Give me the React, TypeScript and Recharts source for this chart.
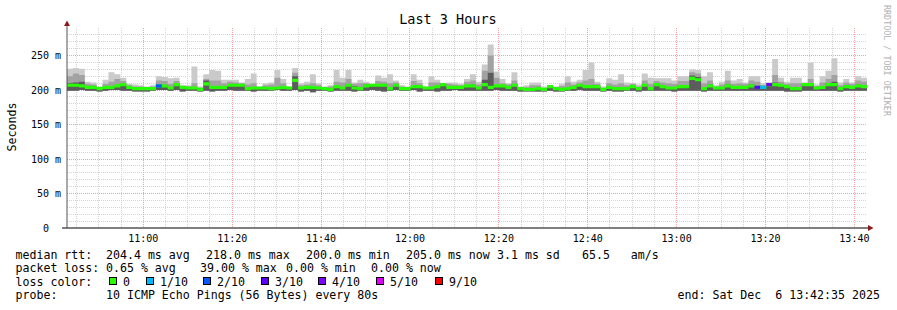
import React from 'react';
import { ComposedChart, Area, XAxis, YAxis, CartesianGrid, ReferenceDot } from 'recharts';

// time axis (seconds since midnight): 10:42:50 .. 13:42:50, 80 s steps
const T0 = 38570;
const STEP = 80;
const SPAN = 10800;
const Y_MAX = 290;

// median rtt per step (ms)
const medianMs = [
  207, 207, 206, 204, 204, 202, 204, 204, 206, 208,
  204, 202, 202, 202, 202, 206, 206, 203, 208, 204,
  203, 203, 201, 209, 204, 204, 204, 207, 207, 207,
  202, 203, 203, 203, 202, 203, 204, 203, 214, 203,
  204, 204, 203, 202, 201, 205, 203, 207, 203, 202,
  206, 207, 207, 207, 202, 207, 202, 202, 205, 205,
  203, 203, 205, 208, 204, 204, 204, 206, 206, 203,
  208, 204, 206, 206, 204, 207, 202, 201, 201, 202,
  201, 205, 202, 201, 202, 204, 207, 205, 205, 205,
  201, 204, 202, 202, 202, 205, 202, 207, 202, 208,
  205, 203, 203, 205, 205, 217, 215, 202, 206, 203,
  203, 206, 204, 204, 204, 206, 204, 204, 208, 208,
  207, 205, 202, 202, 208, 208, 203, 204, 208, 208,
  202, 205, 204, 206, 205,
];
// highest ping per step (ms)
const maxMs = [
  231, 232, 231, 212, 211, 205, 215, 226, 223, 218,
  209, 208, 207, 205, 207, 220, 219, 217, 218, 207,
  207, 234, 205, 223, 229, 228, 215, 215, 215, 211,
  216, 224, 205, 210, 211, 229, 216, 205, 232, 210,
  212, 223, 210, 205, 207, 229, 218, 229, 211, 215,
  212, 208, 221, 218, 223, 214, 207, 205, 223, 215,
  205, 220, 215, 210, 211, 211, 209, 216, 223, 212,
  237, 266, 227, 216, 210, 226, 205, 207, 211, 211,
  205, 207, 205, 209, 220, 212, 215, 229, 240, 212,
  205, 217, 215, 223, 211, 210, 208, 224, 218, 217,
  217, 217, 214, 220, 220, 230, 229, 220, 226, 207,
  212, 228, 214, 216, 211, 220, 220, 210, 211, 245,
  218, 212, 218, 218, 211, 240, 208, 220, 228, 246,
  211, 216, 211, 220, 218,
];
// top of the middle smoke band (ms)
const upperMs = [
  220, 224, 222, 209, 208, 204, 209, 212, 216, 213,
  207, 205, 205, 204, 205, 214, 213, 209, 213, 206,
  205, 210, 203, 216, 214, 214, 210, 212, 211, 210,
  208, 210, 204, 207, 208, 218, 210, 204, 225, 207,
  208, 210, 207, 204, 205, 212, 211, 216, 209, 210,
  210, 208, 213, 212, 210, 211, 205, 204, 213, 210,
  204, 211, 211, 209, 209, 208, 207, 212, 214, 208,
  228, 250, 218, 210, 208, 214, 204, 204, 207, 207,
  203, 206, 204, 206, 211, 208, 211, 214, 216, 209,
  203, 210, 208, 210, 207, 209, 205, 214, 209, 213,
  211, 210, 209, 213, 213, 226, 224, 210, 214, 205,
  208, 214, 209, 210, 209, 214, 212, 207, 210, 222,
  212, 209, 210, 210, 210, 216, 206, 211, 216, 222,
  207, 211, 209, 214, 212,
];
// top of the dark inner smoke band (ms)
const innerMs = [
  210, 211, 212, 205, 205, 203, 205, 205, 207, 209,
  205, 203, 203, 203, 203, 207, 207, 204, 209, 205,
  204, 204, 202, 214, 205, 205, 205, 208, 208, 208,
  203, 204, 203, 204, 203, 204, 205, 203, 220, 204,
  205, 205, 204, 203, 202, 206, 204, 208, 206, 203,
  208, 208, 208, 208, 203, 208, 203, 203, 206, 206,
  203, 204, 206, 209, 205, 205, 205, 207, 208, 204,
  215, 225, 207, 207, 205, 208, 203, 202, 202, 203,
  202, 206, 203, 202, 203, 205, 208, 206, 207, 206,
  202, 205, 203, 204, 203, 206, 203, 208, 203, 209,
  206, 204, 204, 207, 207, 221, 219, 204, 208, 204,
  204, 208, 205, 205, 205, 208, 206, 205, 209, 211,
  208, 206, 203, 203, 209, 210, 204, 205, 210, 212,
  203, 206, 205, 208, 207,
];
// lowest ping per step (ms)
const minMs = [
  199, 199, 200, 199, 199, 198, 199, 200, 200, 199,
  199, 198, 198, 198, 199, 200, 200, 199, 200, 198,
  199, 199, 198, 199, 198, 199, 199, 200, 199, 199,
  199, 198, 199, 199, 199, 200, 199, 199, 200, 198,
  199, 197, 199, 199, 198, 199, 199, 199, 198, 199,
  199, 200, 199, 198, 199, 200, 199, 199, 200, 198,
  199, 199, 198, 199, 199, 200, 199, 199, 199, 199,
  199, 199, 200, 199, 199, 199, 198, 198, 198, 198,
  198, 199, 198, 198, 199, 199, 200, 199, 199, 199,
  198, 199, 198, 198, 199, 199, 198, 199, 199, 199,
  199, 199, 198, 199, 199, 199, 199, 198, 199, 199,
  199, 199, 199, 199, 199, 199, 199, 199, 199, 199,
  199, 198, 198, 198, 199, 199, 199, 199, 199, 199,
  198, 199, 199, 199, 199,
];
// steps with packet loss and their loss (tenths)
const lossSteps = [15, 116, 117, 118];
const lossTenths = [2, 3, 1, 4];

// loss colour legend
const lossLevels = [0, 1, 2, 3, 4, 5, 9];
const lossLabels = ['0', '1/10', '2/10', '3/10', '4/10', '5/10', '9/10'];
const lossColors = ['#26ff00', '#00b8ff', '#0059ff', '#5e00ff', '#7e00ff', '#dd00ff', '#ff0000'];

// axes
const yTicks = [0, 50, 100, 150, 200, 250];
const xTicks = [39600, 40800, 42000, 43200, 44400, 45600, 46800, 48000, 49200];
const xTickLabels = ['11:00', '11:20', '11:40', '12:00', '12:20', '12:40', '13:00', '13:20', '13:40'];

// legend texts
const rttLabel = 'median rtt:';
const rttItems = ['204.4 ms avg', '218.0 ms max', '200.0 ms min', '205.0 ms now', '3.1 ms sd', '65.5   am/s'];
const lossLabel = 'packet loss:';
const lossItems = ['0.65 % avg', '39.00 % max', '0.00 % min', '0.00 % now'];
const colorLabel = 'loss color:';
const probeLabel = 'probe:';
const probeText = '10 ICMP Echo Pings (56 Bytes) every 80s';
const endText = 'end: Sat Dec  6 13:42:35 2025';
const titleText = 'Last 3 Hours';
const yLabel = 'Seconds';
const watermark = 'RRDTOOL / TOBI OETIKER';

// layout (pixel positions of legend items)
const rttX = [106, 206, 306, 406, 497, 582];
const lossX = [106, 200, 286, 371];
const swatchX = [109, 146, 203, 261, 318, 376, 435];
const swatchLabelX = [123, 160, 217, 275, 332, 390, 449];

const BAND = 2.3; // half thickness of the median band (ms)
const FONT = '"DejaVu Sans Mono", monospace';
const PRE: React.CSSProperties = { whiteSpace: 'pre' };

// minor grid values
const minorY: number[] = [];
for (let v = 10; v < Y_MAX; v += 10) if (v % 50 !== 0) minorY.push(v);
const majorY = yTicks.filter((v) => v > 0);
const minorX: number[] = [];
for (let t = 38700; t < T0 + SPAN; t += 300) if (!xTicks.includes(t)) minorX.push(t);

type Row = { [k: string]: number | undefined };
const rows: Row[] = medianMs.map((m, k) => ({
  t: T0 + STEP * k,
  med: m,
  lo: minMs[k],
  hi: maxMs[k],
  up: upperMs[k],
  inn: innerMs[k],
}));
rows.push({ ...rows[rows.length - 1], t: T0 + STEP * medianMs.length });
lossSteps.forEach((k, i) => {
  const key = 'loss' + lossTenths[i];
  rows[k][key] = medianMs[k];
  rows[k + 1][key] = medianMs[k];
});
const usedLoss = Array.from(new Set(lossTenths));

const yScaleOf = (yAxis: any, offset: any) => (v: number) =>
  yAxis && typeof yAxis.scale === 'function'
    ? yAxis.scale(v)
    : offset.top + offset.height * (1 - v / Y_MAX);
const xScaleOf = (xAxis: any, offset: any) => (v: number) =>
  xAxis && typeof xAxis.scale === 'function'
    ? xAxis.scale(v)
    : offset.left + (offset.width * (v - T0)) / SPAN;

const YTick = (props: any) => {
  const { y, payload } = props;
  const v = payload.value;
  return (
    <text x={61} y={y + 3.5} textAnchor="end" fontSize={10} fontFamily={FONT} fill="#000"
      xmlSpace="preserve" style={PRE}>
      {v === 0 ? '0  ' : `${v} m`}
    </text>
  );
};
const XTick = (props: any) => {
  const { x, y, payload } = props;
  const i = xTicks.indexOf(payload.value);
  return (
    <text x={x} y={y + 13.7} textAnchor="middle" fontSize={10} fontFamily={FONT} fill="#000">
      {i >= 0 ? xTickLabels[i] : ''}
    </text>
  );
};

const T = (p: { x: number; y: number; children: React.ReactNode }) => (
  <text x={p.x} y={p.y} xmlSpace="preserve" style={PRE}>{p.children}</text>
);

const ARROW = '#8b1a1a';

export default function App() {
  return (
    <div style={{ position: 'absolute', left: 0, top: 0, width: 897, height: 310, background: '#fff' }}>
      <ComposedChart width={897} height={310} data={rows} margin={{ top: 28, right: 30, bottom: 52, left: 0 }}>
        <CartesianGrid
          stroke="#d4d4d4"
          strokeDasharray="1 1"
          shapeRendering="crispEdges"
          horizontalCoordinatesGenerator={({ yAxis, offset }: any) => minorY.map(yScaleOf(yAxis, offset))}
          verticalCoordinatesGenerator={({ xAxis, offset }: any) => minorX.map(xScaleOf(xAxis, offset))}
        />
        <CartesianGrid
          stroke="#f0a0a0"
          strokeDasharray="1 1"
          shapeRendering="crispEdges"
          horizontalCoordinatesGenerator={({ yAxis, offset }: any) => majorY.map(yScaleOf(yAxis, offset))}
          verticalCoordinatesGenerator={({ xAxis, offset }: any) => xTicks.map(xScaleOf(xAxis, offset))}
        />
        <XAxis
          dataKey="t"
          type="number"
          domain={[T0, T0 + SPAN]}
          allowDataOverflow
          ticks={xTicks}
          interval={0}
          height={30}
          tickSize={0}
          tickMargin={0}
          tickLine={false}
          axisLine={{ stroke: '#000', strokeWidth: 1 }}
          tick={<XTick />}
        />
        <YAxis
          type="number"
          domain={[0, Y_MAX]}
          allowDataOverflow
          ticks={yTicks}
          interval={0}
          width={67}
          tickSize={0}
          tickMargin={0}
          tickLine={false}
          axisLine={{ stroke: '#555', strokeWidth: 1 }}
          tick={<YTick />}
        />
        <Area type="stepAfter" dataKey={(d: any) => [d.lo, d.hi]} stroke="none" fill="#cacaca" fillOpacity={1}
          isAnimationActive={false} dot={false} activeDot={false} />
        <Area type="stepAfter" dataKey={(d: any) => [d.lo, d.up]} stroke="none" fill="#a2a2a2" fillOpacity={1}
          isAnimationActive={false} dot={false} activeDot={false} />
        <Area type="stepAfter" dataKey={(d: any) => [d.lo, d.inn]} stroke="none" fill="#5c5c5c" fillOpacity={1}
          isAnimationActive={false} dot={false} activeDot={false} />
        <Area type="stepAfter" dataKey={(d: any) => [d.med - BAND, d.med + BAND]} stroke="none" fill={lossColors[0]}
          fillOpacity={1} isAnimationActive={false} dot={false} activeDot={false} />
        {usedLoss.map((lv) => (
          <Area key={lv} type="stepAfter"
            dataKey={(d: any) => (d['loss' + lv] != null ? [d['loss' + lv] - BAND, d['loss' + lv] + BAND] : null)}
            stroke="none" fill={lossColors[lossLevels.indexOf(lv)]} fillOpacity={1}
            isAnimationActive={false} dot={false} activeDot={false} />
        ))}
        <ReferenceDot x={T0 + SPAN} y={0} r={0} ifOverflow="visible"
          shape={(p: any) => (
            <g>
              <line x1={p.cx} x2={p.cx + 2} y1={p.cy} y2={p.cy} stroke="#000" />
              <path d={`M${p.cx + 1},${p.cy - 3} L${p.cx + 6.5},${p.cy} L${p.cx + 1},${p.cy + 3}Z`} fill={ARROW} />
            </g>
          )} />
        <ReferenceDot x={T0} y={0} r={0} ifOverflow="visible"
          shape={(p: any) => <line x1={p.cx - 5} x2={p.cx} y1={p.cy} y2={p.cy} stroke="#000" />} />
        <ReferenceDot x={T0} y={Y_MAX} r={0} ifOverflow="visible"
          shape={(p: any) => (
            <g>
              <line x1={p.cx} x2={p.cx} y1={p.cy} y2={p.cy - 2} stroke="#555" />
              <path d={`M${p.cx - 3},${p.cy - 2} L${p.cx},${p.cy - 7.5} L${p.cx + 3},${p.cy - 2}Z`} fill={ARROW} />
            </g>
          )} />
      </ComposedChart>
      <svg width={897} height={310} style={{ position: 'absolute', left: 0, top: 0, pointerEvents: 'none' }}
        fontFamily={FONT}>
        <text x={448} y={24} textAnchor="middle" fontSize={13.5} fill="#000">{titleText}</text>
        <text transform="translate(16,127) rotate(-90)" textAnchor="middle" fontSize={11.6} fill="#000">{yLabel}</text>
        <text transform="translate(884,5) rotate(90)" fontSize={8.4} fill="#b0b0b0">{watermark}</text>
        <g fontSize={11.6} fill="#000">
          <T x={15.5} y={258.5}>{rttLabel}</T>
          {rttItems.map((s, i) => <T key={'r' + i} x={rttX[i]} y={258.5}>{s}</T>)}
          <T x={15.5} y={272}>{lossLabel}</T>
          {lossItems.map((s, i) => <T key={'l' + i} x={lossX[i]} y={272}>{s}</T>)}
          <T x={15.5} y={285.7}>{colorLabel}</T>
          {lossLabels.map((s, i) => (
            <g key={'c' + i}>
              <rect x={swatchX[i] + 0.5} y={277.5} width={7} height={7} fill={lossColors[i]} stroke="#000" strokeWidth={1} />
              <T x={swatchLabelX[i]} y={285.7}>{s}</T>
            </g>
          ))}
          <T x={15.5} y={299.3}>{probeLabel}</T>
          <T x={106} y={299.3}>{probeText}</T>
          <T x={677.5} y={299.3}>{endText}</T>
        </g>
      </svg>
    </div>
  );
}
